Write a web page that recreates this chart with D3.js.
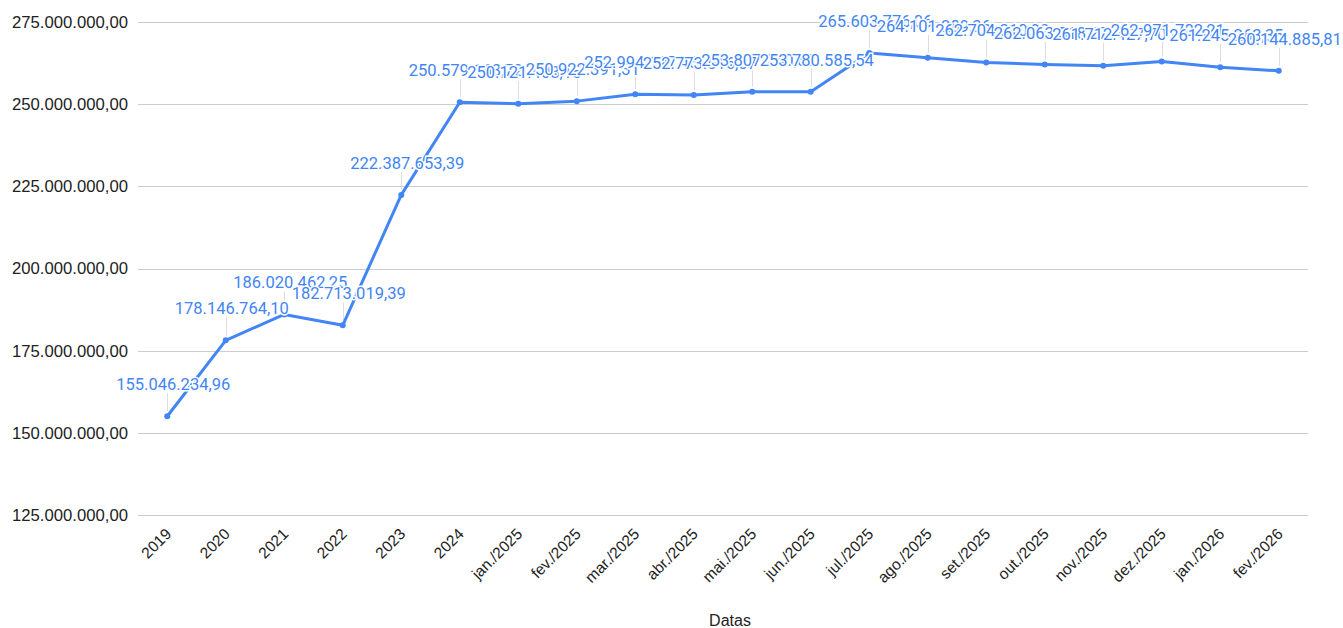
<!DOCTYPE html>
<html>
<head>
<meta charset="utf-8">
<script src="https://cdn.jsdelivr.net/npm/d3@7"></script>
<style>
  body { margin: 0; background: #fff; }
  svg { display: block; }
</style>
</head>
<body>
<svg id="chart"></svg>
<script>
// categories on the x axis
var categories = ["2019", "2020", "2021", "2022", "2023", "2024",
  "jan./2025", "fev./2025", "mar./2025", "abr./2025", "mai./2025", "jun./2025",
  "jul./2025", "ago./2025", "set./2025", "out./2025", "nov./2025", "dez./2025",
  "jan./2026", "fev./2026"];

// series values (read from the labels; hidden digits estimated)
var values = [155046234.96, 178146764.10, 186020462.25, 182713019.39, 222387653.39, 250579163.72,
  250121408.15, 250922391.31, 252994127.48, 252773516.07, 253807240.63, 253780585.54,
  265603776.06, 264101289.36, 262704310.92, 262063518.27, 261712427.70, 262971702.21,
  261245263.35, 260144885.81];

// y tick values
var yTicks = [125000000, 150000000, 175000000, 200000000, 225000000, 250000000, 275000000];

var xTitle = "Datas";

var width = 1343, height = 628;
var margin = {top: 22, right: 35, bottom: 113, left: 138};

var svg = d3.select("#chart")
    .attr("width", width)
    .attr("height", height);

// brazilian number format
var fmt = d3.formatLocale({decimal: ",", thousands: ".", grouping: [3], currency: ["R$", ""]}).format(",.2f");

var xScale = d3.scaleBand()
    .domain(categories)
    .range([margin.left, width - margin.right]);

var yScale = d3.scaleLinear()
    .domain([125000000, 275000000])
    .range([height - margin.bottom, margin.top]);

function cx(i) { return xScale(categories[i]) + xScale.bandwidth() / 2; }

// gridlines
svg.append("g")
  .selectAll("line")
  .data(yTicks)
  .enter().append("line")
    .attr("x1", margin.left)
    .attr("x2", width - margin.right)
    .attr("y1", function(d) { return Math.round(yScale(d)) + 0.5; })
    .attr("y2", function(d) { return Math.round(yScale(d)) + 0.5; })
    .attr("stroke", "#cccccc")
    .attr("stroke-width", 1);

// y axis labels
svg.append("g")
  .selectAll("text")
  .data(yTicks)
  .enter().append("text")
    .attr("x", margin.left - 10)
    .attr("y", function(d) { return yScale(d); })
    .attr("dy", "0.35em")
    .attr("text-anchor", "end")
    .attr("font-family", "Liberation Sans, Arial, sans-serif")
    .attr("font-size", 16.7)
    .attr("fill", "#222")
    .text(function(d) { return fmt(d); });

// x axis labels, rotated
svg.append("g")
  .selectAll("text")
  .data(categories)
  .enter().append("text")
    .attr("transform", function(d, i) { return "translate(" + (cx(i) + 5) + "," + 535 + ") rotate(-45)"; })
    .attr("text-anchor", "end")
    .attr("font-family", "Liberation Sans, Arial, sans-serif")
    .attr("font-size", 15.5)
    .attr("fill", "#222")
    .text(function(d) { return d; });

// x axis title
svg.append("text")
    .attr("x", 730)
    .attr("y", 626)
    .attr("text-anchor", "middle")
    .attr("font-family", "Liberation Sans, Arial, sans-serif")
    .attr("font-size", 16)
    .attr("fill", "#222")
    .text(xTitle);

// leader lines for the labels
svg.append("g")
  .selectAll("line")
  .data(values)
  .enter().append("line")
    .attr("x1", function(d, i) { return Math.round(cx(i)) + 0.5; })
    .attr("x2", function(d, i) { return Math.round(cx(i)) + 0.5; })
    .attr("y1", function(d) { return yScale(d) - 23; })
    .attr("y2", function(d) { return yScale(d) - 5; })
    .attr("stroke", "#dddddd")
    .attr("stroke-width", 1);

// the line
var line = d3.line()
    .x(function(d, i) { return cx(i); })
    .y(function(d) { return yScale(d); });

svg.append("path")
    .datum(values)
    .attr("fill", "none")
    .attr("stroke", "#4285f4")
    .attr("stroke-width", 3)
    .attr("stroke-linejoin", "round")
    .attr("d", line);

// points
svg.append("g")
  .selectAll("circle")
  .data(values)
  .enter().append("circle")
    .attr("cx", function(d, i) { return cx(i); })
    .attr("cy", function(d) { return yScale(d); })
    .attr("r", 3)
    .attr("fill", "#4285f4");

// data labels, white halo so later ones cover earlier ones
svg.append("g")
  .selectAll("text")
  .data(values)
  .enter().append("text")
    .attr("x", function(d, i) { return cx(i) + 6; })
    .attr("y", function(d) { return yScale(d) - 26; })
    .attr("text-anchor", "middle")
    .attr("font-family", "Roboto, sans-serif")
    .attr("font-size", 16.5)
    .attr("fill", "#4285f4")
    .attr("stroke", "#ffffff")
    .attr("stroke-width", 3)
    .attr("paint-order", "stroke")
    .text(function(d) { return fmt(d); });
</script>
</body>
</html>
